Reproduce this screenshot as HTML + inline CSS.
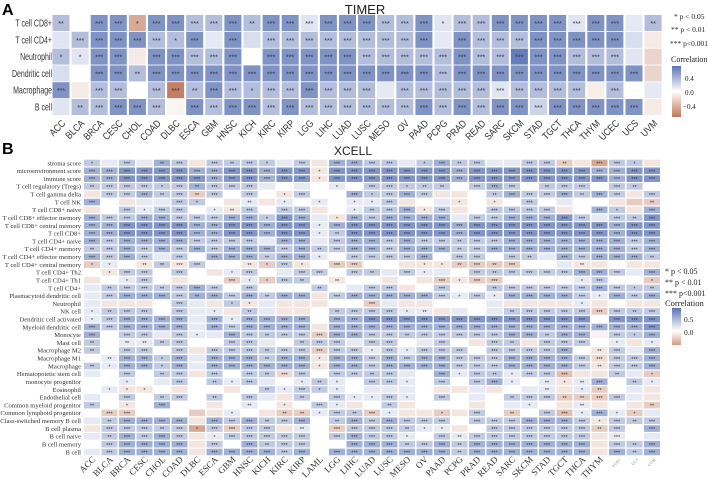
<!DOCTYPE html>
<html><head><meta charset="utf-8"><style>
html,body{margin:0;padding:0;background:#fff;}
svg{display:block;}
</style></head><body>
<svg id="chart" width="708" height="479" viewBox="0 0 708 479" xmlns="http://www.w3.org/2000/svg">
<text x="2" y="15" font-family="Liberation Sans, sans-serif" font-weight="bold" font-size="16">A</text>
<text x="365" y="14" text-anchor="middle" font-family="Liberation Sans, sans-serif" font-size="13" fill="#222">TIMER</text>
<text x="2" y="154" font-family="Liberation Sans, sans-serif" font-weight="bold" font-size="16">B</text>
<text x="353" y="155" text-anchor="middle" font-family="Liberation Sans, sans-serif" font-size="12" fill="#222">XCELL</text>
<defs>
<linearGradient id="gA" x1="0" y1="0" x2="0" y2="1"><stop offset="0" stop-color="#5a74b4"/><stop offset="0.5" stop-color="#ffffff"/><stop offset="1" stop-color="#bf7657"/></linearGradient>
<linearGradient id="gB" x1="0" y1="0" x2="0" y2="1"><stop offset="0" stop-color="#5a74b4"/><stop offset="0.62" stop-color="#ffffff"/><stop offset="1" stop-color="#d59a80"/></linearGradient>
</defs>
<g font-family="Liberation Serif, serif" fill="#222">
<text x="674" y="19" font-size="7.5">* p &lt; 0.05</text>
<text x="671" y="32" font-size="7.5">** p &lt; 0.01</text>
<text x="670" y="46" font-size="7.5">*** p&lt;0.001</text>
<text x="671" y="62" font-size="8">Correlation</text>
<rect x="672" y="66" width="9" height="51" fill="url(#gA)"/>
<text x="685" y="81" font-size="7">0.4</text>
<text x="685" y="95" font-size="7">0.0</text>
<text x="683" y="109" font-size="7">−0.4</text>
<text x="665" y="274" font-size="8">* p &lt; 0.05</text>
<text x="665" y="285" font-size="8">** p &lt; 0.01</text>
<text x="665" y="296" font-size="8">*** p&lt;0.001</text>
<text x="665" y="306" font-size="8.5">Correlation</text>
<rect x="672" y="308" width="9" height="37" fill="url(#gB)"/>
<text x="684" y="322" font-size="7.5">0.5</text>
<text x="684" y="335" font-size="7.5">0.0</text>
</g>
<g id="pa"></g>
<g id="pb"></g>
</svg>
<script>
const timerCancers = ["ACC","BLCA","BRCA","CESC","CHOL","COAD","DLBC","ESCA","GBM","HNSC","KICH","KIRC","KIRP","LGG","LIHC","LUAD","LUSC","MESO","OV","PAAD","PCPG","PRAD","READ","SARC","SKCM","STAD","TGCT","THCA","THYM","UCEC","UCS","UVM"];
const timerCells = ["T cell CD8+","T cell CD4+","Neutrophil","Dendritic cell","Macrophage","B cell"];
const timerValues = [
[.3,0,.5,.5,-.4,.5,.5,.3,.3,.5,.3,.5,.5,.12,.5,.5,.5,.3,.3,.5,.12,.3,.3,.5,.5,.5,.5,.12,.5,.5,.1,.3],
[.12,.3,.5,.5,.5,.3,.3,.5,.1,.5,.15,.3,.3,.3,.3,.3,.3,.3,.3,.5,.1,.5,.3,.3,.3,.5,.5,.5,.5,.5,.15,-.1],
[.3,.12,.5,.5,-.1,.5,.5,.3,.3,.5,0,.5,.5,.5,.5,.5,.3,.3,.3,.3,.3,.5,.3,.3,.6,.5,.5,.3,.3,.3,.12,-.2],
[.15,0,.5,.5,.3,.5,.5,.5,.5,.5,.5,.5,.5,.5,.5,.5,.5,.5,.5,.5,.3,.5,.5,.5,.5,.5,.5,.5,.5,.5,.5,-.2],
[.5,-.1,.3,.3,0,.3,-.6,.3,.5,.3,.3,.3,.3,.5,.3,.3,.3,.1,.3,.3,.3,.3,.3,.12,.3,.3,.3,.3,-.08,.3,0,.1],
[.12,.3,.3,.5,.5,.3,-.05,.5,.3,.5,.5,.3,.5,.3,.3,.3,.3,.3,.3,.5,.3,.5,.3,.5,.5,.2,.5,.5,.5,.5,.5,-.1]
];
const timerStars = [
[2,0,3,3,1,3,3,3,3,3,2,3,3,3,3,3,3,3,3,3,1,3,3,3,3,3,3,3,3,3,0,2],
[0,3,3,3,3,3,1,3,0,3,0,3,3,3,3,3,3,3,3,3,0,3,3,3,3,3,3,3,3,3,0,0],
[1,1,3,3,0,3,3,3,3,3,0,3,3,3,3,3,3,3,3,3,3,3,3,3,3,3,3,3,3,3,0,0],
[0,0,3,3,2,3,3,3,3,3,3,3,3,3,3,3,3,3,3,3,3,3,3,3,3,3,3,3,3,3,3,0],
[3,0,3,3,0,3,3,2,3,3,1,3,3,3,3,3,3,0,3,3,3,3,3,3,3,3,3,3,0,3,0,0],
[0,2,3,3,3,3,0,3,3,3,3,3,3,3,3,3,3,3,3,3,3,3,3,3,3,3,3,3,3,3,3,0]
];
const xcellCancers = ["ACC","BLCA","BRCA","CESC","CHOL","COAD","DLBC","ESCA","GBM","HNSC","KICH","KIRC","KIRP","LAML","LGG","LIHC","LUAD","LUSC","MESO","OV","PAAD","PCPG","PRAD","READ","SARC","SKCM","STAD","TGCT","THCA","THYM","UCEC","UCS","UVM"];
const xcellCells = ["stroma score","microenvironment score","immune score","T cell regulatory (Tregs)","T cell gamma delta","T cell NK","T cell CD8+ naive","T cell CD8+ effector memory","T cell CD8+ central memory","T cell CD8+","T cell CD4+ naive","T cell CD4+ memory","T cell CD4+ effector memory","T cell CD4+ central memory","T cell CD4+ Th2","T cell CD4+ Th1","T cell CD4+","Plasmacytoid dendritic cell","Neutrophil","NK cell","Dendritic cell activated","Myeloid dendritic cell","Monocyte","Mast cell","Macrophage M2","Macrophage M1","Macrophage","Hematopoietic stem cell","monocyte progenitor","Eosinophil","Endothelial cell","Common myeloid progenitor","Common lymphoid progenitor","Class-switched memory B cell","B cell plasma","B cell naive","B cell memory","B cell"];
const xcellValues = [
[.3,.12,.3,.12,.45,.3,-.1,.3,.3,.3,.3,.12,.3,-.1,.45,.45,.3,.3,.12,.3,.45,.3,.3,.12,.12,.3,.3,-.2,-.1,-.35,.3,.3,-.1],
[.45,.45,.6,.6,.6,.6,.45,.45,.6,.6,.45,.6,.6,-.1,.6,.6,.6,.6,.6,.6,.6,.45,.6,.6,.6,.6,.6,.6,.6,.45,.45,.6,.6],
[.45,.45,.6,.6,.6,.6,.6,.45,.6,.6,.45,.6,.6,-.1,.6,.6,.6,.6,.6,.6,.6,.45,.6,.6,.6,.6,.6,.6,.6,.6,.45,.6,.6],
[.3,.3,.3,.3,.3,.3,.45,.3,.3,.3,.12,0,.12,0,.12,0,.3,.3,.3,.3,.3,0,.3,.45,.3,0,.3,.3,.3,0,.3,.3,0],
[-.1,.3,.3,.45,.3,.3,-.2,.3,0,.3,0,-.1,.3,0,0,.45,.3,.3,.45,.3,-.1,-.1,0,.3,.45,.3,.3,.45,.3,.45,.3,-.1,.3],
[.45,0,-.1,.12,.12,.3,.3,0,-.1,.12,-.1,.12,0,.12,0,.12,.12,.3,-.1,0,.12,-.1,0,-.1,0,.3,0,.12,0,0,-.1,-.2,-.2],
[-.1,0,.3,.12,.3,.3,0,.12,-.1,.3,0,.3,.3,-.1,0,.12,.3,.3,.45,-.1,.3,-.1,0,.3,.3,.3,.3,-.1,0,.45,.3,-.1,.45],
[.45,.3,.3,.45,.45,.3,.3,.3,.45,.45,.3,.6,.45,.12,-.1,.45,.3,.45,.45,.45,.45,.12,.3,.3,.45,.45,.45,.6,.3,.12,.3,.3,.6],
[.45,.45,.6,.6,.6,.6,.45,.45,.6,.6,.45,.6,.6,.12,.45,.6,.6,.6,.6,.6,.6,.45,.6,.6,.6,.6,.6,.6,.6,.6,.45,.6,.6],
[.45,.45,.6,.6,.6,.6,.45,.45,.6,.6,.45,.6,.6,.12,.3,.6,.6,.6,.6,.6,.6,.45,.6,.6,.6,.6,.6,.6,.6,.6,.45,.6,.6],
[.45,.3,.45,.45,.45,.45,.3,.3,.3,.3,.12,.45,.45,.12,.3,.45,.45,.3,.45,.3,.3,.3,.3,.3,.45,.45,.45,.45,.45,.45,.45,.3,.45],
[.3,.3,.45,.3,.45,.3,.45,.3,.45,.45,.45,.3,.45,.3,.3,.45,.45,.3,.45,.45,.45,.3,.3,.45,.45,.45,.45,.45,.45,.45,.45,.3,.45],
[.45,.3,.45,.3,.12,.3,0,.45,.45,.45,.3,.45,.45,.12,0,.3,.3,.3,.3,.45,0,.3,.3,0,.3,.3,.12,.45,.3,.45,.45,.45,.3],
[-.2,.12,0,-.1,.3,-.1,.3,0,0,-.1,-.2,.3,-.1,0,-.2,-.2,0,0,-.1,-.1,-.1,-.2,-.2,-.2,-.2,0,0,.12,-.1,-.1,0,-.1,-.1],
[0,-.1,.3,.3,0,.3,0,-.1,.12,.3,0,.12,.3,.3,0,.3,.3,.12,.3,.12,.12,0,.3,.3,.3,.3,.3,.3,.45,.45,.3,.12,.45],
[-.1,0,.12,.3,0,-.1,0,0,-.2,.12,-.2,.3,.3,0,-.1,0,0,-.1,0,-.1,-.2,-.1,-.2,-.2,0,0,0,0,.12,.3,0,0,-.2],
[.12,.3,.3,.3,.3,.3,.45,.3,0,.3,0,0,0,.3,0,.12,.3,.3,-.1,0,.3,0,0,.3,.3,.3,.3,.3,.3,.45,.3,.3,.3],
[.12,.3,.45,.45,.45,.3,.45,.45,.3,.45,.3,.45,.45,-.1,.3,.45,.45,.45,.45,.45,.3,.12,.3,.12,.45,.45,.45,.45,.3,.12,.45,.3,.45],
[.12,-.1,-.1,-.1,0,.3,.12,-.1,.3,-.1,.12,-.1,-.1,-.1,0,0,-.2,.12,-.1,-.1,0,0,0,.12,-.1,-.1,-.1,-.1,.12,-.1,0,-.1,-.1],
[.12,.3,.3,.3,0,.3,.12,.12,-.1,.3,.12,-.1,-.1,0,.3,.3,.3,.3,.12,.12,-.1,.12,0,.12,.3,.3,.3,.3,.3,-.2,.3,.3,.3],
[.12,.3,.45,.45,.45,.45,.12,.45,.12,.45,.45,.45,.45,0,.45,.45,.6,.6,.6,.6,.6,.6,.6,.6,.6,.6,.6,.6,.6,0,.6,.6,.6],
[.45,.3,.45,.45,.45,.45,.12,.45,.3,.45,.45,.45,.45,-.1,.45,.45,.45,.45,.45,.45,.45,.45,.45,.45,.45,.45,.45,.45,.45,.45,.45,.45,.6],
[.45,0,.3,.3,.12,.3,.12,.12,.45,.3,.3,.3,.3,-.2,.45,.45,.3,.3,.3,.3,.3,.3,.3,.3,.45,.45,.3,.45,.45,-.05,.3,.3,.45],
[.3,0,.12,.12,.3,.3,0,0,.3,.3,.12,0,.3,.3,.3,.12,.3,.3,0,.12,.3,0,-.1,.3,.3,-.1,.3,.3,.3,0,.12,-.1,.12],
[.3,0,.3,.3,0,.3,-.1,.3,.3,.3,.3,.3,.3,-.2,.3,.3,.12,.3,.12,.3,.3,.3,0,.3,.3,.3,.3,.45,0,-.1,.3,.12,.45],
[0,.12,.45,.45,.3,.45,.12,.45,.45,.45,.3,.45,.45,-.1,.45,.45,.3,.45,.3,.45,.45,.3,.3,.3,.45,.45,.45,.45,.3,-.15,.3,.3,.45],
[.3,.12,.45,.45,.3,.45,.12,.45,.45,.45,.45,.45,.45,-.1,.45,.45,.3,.45,.45,.45,.45,.3,.3,.3,.45,.45,.45,.45,.3,-.1,.3,.3,.45],
[.12,0,.3,0,.3,.3,-.1,.3,0,.3,.3,-.15,.3,0,.3,.3,.3,.3,.12,0,.45,.12,.3,.3,.12,.3,.3,-.25,-.1,-.1,.3,.12,-.2],
[0,0,.12,0,.12,.3,0,.3,.12,.3,.12,0,.12,.3,.12,0,.3,.3,.12,0,.3,0,.3,.45,.12,0,.12,-.1,.12,.45,0,.3,.12],
[0,.12,-.1,-.1,0,-.1,0,0,-.1,0,.3,.12,.3,.3,.12,0,.12,.12,.12,0,-.1,-.1,.12,-.1,0,.12,.12,-.1,.12,-.2,0,.12,-.1],
[.12,0,.3,0,.3,.3,0,.3,0,.3,.12,-.1,.3,0,.3,.12,.12,.3,.12,0,.3,0,.12,0,.3,.3,.3,-.2,-.2,-.2,.3,.12,-.1],
[.3,0,-.1,0,.45,0,0,-.1,0,.12,0,-.1,0,.3,.12,-.1,0,.3,-.1,0,0,0,-.1,0,.12,.12,0,-.1,.12,-.1,0,-.1,-.2],
[0,-.2,-.2,0,0,0,-.2,-.1,.12,0,-.1,-.2,-.2,.12,.3,.3,-.2,.12,-.1,-.1,-.2,-.1,.3,0,-.2,0,.3,-.25,.12,.45,.12,-.2,.12],
[.12,.3,.45,.45,.45,.45,-.1,.45,.3,.45,.3,.3,.45,0,.3,.45,.3,.45,.3,.3,.3,0,.3,.3,.3,.45,.45,.45,.3,-.1,.3,.3,.3],
[-.1,.3,.3,.3,.3,.3,-.35,.3,-.2,.3,.3,-.1,.12,0,-.2,.3,.3,.3,.3,.12,.12,-.1,0,.3,.3,.3,.3,.3,.3,-.2,.3,0,.45],
[.12,.3,.45,.3,.45,.3,-.1,.12,.3,.3,.3,.3,.3,0,.3,.45,.3,.3,.12,0,.3,.12,.3,.3,.3,.3,.3,.3,.3,-.1,.12,0,.12],
[0,.3,.45,.45,.45,.45,-.1,.3,0,.45,.3,.3,.3,0,0,.45,.45,.45,.3,.3,.45,.3,.45,.45,.45,.45,.45,.45,.45,-.1,.3,.3,.45],
[.12,.3,.45,.45,.45,.45,-.1,.45,.45,.45,.45,.3,.45,0,.45,.45,.45,.45,.45,.45,.45,.3,.45,.45,.45,.45,.45,.45,.45,-.1,.45,.3,.45]
];
const xcellStars = [
[1,0,3,0,2,3,0,3,2,3,1,0,3,0,3,3,3,3,0,1,3,2,3,0,0,3,3,2,0,3,3,1,0],
[3,3,3,3,3,3,3,3,3,3,3,3,3,1,3,3,3,3,3,3,3,3,3,3,3,3,3,3,3,3,3,3,3],
[3,3,3,3,3,3,3,3,3,3,3,3,3,1,3,3,3,3,3,3,3,3,3,3,3,3,3,3,3,3,3,3,3],
[2,3,3,3,1,3,2,3,3,3,0,0,0,0,1,0,3,3,1,2,2,0,3,3,3,0,2,3,3,0,3,2,0],
[0,3,3,3,2,3,2,3,0,3,0,1,3,0,0,3,1,3,3,3,0,0,0,2,3,3,3,3,2,3,3,0,3],
[3,0,0,0,0,3,1,0,0,2,0,1,0,1,0,1,1,3,0,0,0,1,0,1,0,3,0,0,0,0,0,0,2],
[0,0,3,1,3,3,0,1,2,3,0,3,3,0,0,1,2,3,3,1,3,0,0,3,3,3,3,0,0,3,1,0,3],
[3,3,3,3,3,3,3,3,3,3,1,3,3,0,1,3,3,3,3,3,3,0,3,3,3,3,3,3,3,0,3,2,3],
[3,3,3,3,3,3,3,3,3,3,3,3,3,1,3,3,3,3,3,3,3,3,3,3,3,3,3,3,3,3,3,3,3],
[3,3,3,3,3,3,3,3,3,3,3,3,3,1,2,3,3,3,3,3,3,3,3,3,3,3,3,3,3,3,3,3,3],
[3,3,3,3,3,3,3,3,3,3,0,3,3,0,3,3,3,3,3,3,3,2,3,3,3,3,3,3,3,3,3,3,3],
[2,3,3,3,3,3,3,3,3,3,3,3,3,2,3,3,3,3,3,3,3,2,3,3,3,3,3,3,3,3,3,3,3],
[3,3,3,3,0,3,0,3,3,3,2,3,3,1,0,3,3,3,3,3,0,3,3,0,3,2,0,3,3,3,3,3,2],
[1,1,0,2,2,3,3,0,0,2,1,3,1,0,3,3,0,0,0,1,1,2,3,2,3,0,0,0,2,0,0,0,0],
[0,1,3,3,0,3,0,0,1,3,0,0,3,3,0,3,2,0,3,1,0,0,3,2,3,3,3,3,3,3,3,0,3],
[0,0,1,3,0,0,0,0,3,1,1,3,2,0,2,0,0,0,0,0,3,1,3,3,0,0,0,0,1,3,0,0,1],
[0,2,3,3,2,3,3,3,0,3,0,0,0,2,0,0,3,3,0,0,3,0,0,2,3,3,3,3,3,3,3,1,2],
[0,3,3,3,3,3,2,3,3,3,2,3,3,0,3,3,3,3,3,3,3,1,3,1,3,3,3,3,3,1,3,3,3],
[0,0,0,0,0,3,0,0,1,1,0,0,0,0,0,0,3,0,0,0,0,0,0,0,0,0,0,0,1,0,0,0,0],
[1,2,3,3,0,3,0,1,0,2,0,0,0,0,2,3,3,3,1,2,0,0,0,0,2,3,3,3,3,3,3,2,3],
[1,3,3,3,3,3,0,3,1,3,3,3,3,0,3,3,3,3,3,3,3,3,3,3,3,3,3,3,3,0,3,3,3],
[3,3,3,3,3,3,0,3,3,3,3,3,3,0,3,3,3,3,3,3,3,3,3,3,3,3,3,3,3,3,3,3,3],
[3,0,3,3,0,3,1,0,3,3,2,3,3,3,3,3,3,3,2,3,3,3,3,3,3,3,2,3,3,0,3,1,3],
[2,0,2,2,2,3,0,0,3,3,0,0,2,3,3,0,3,3,0,0,3,0,0,3,2,0,3,3,3,0,1,0,1],
[2,0,3,3,0,3,0,3,3,3,2,3,3,3,3,3,1,3,1,3,3,3,0,3,3,3,3,3,0,2,3,0,3],
[0,2,3,3,1,3,0,3,3,3,2,3,3,1,3,3,3,3,3,3,3,3,3,3,3,3,3,3,3,3,3,3,3],
[2,1,3,3,1,3,0,3,3,3,3,3,3,1,3,3,3,3,3,3,3,3,3,3,3,3,3,3,3,2,3,3,3],
[0,0,3,0,2,3,0,3,0,3,2,3,3,0,3,3,2,3,0,0,3,1,3,2,1,3,3,3,0,0,2,0,1],
[0,0,1,0,0,3,0,2,1,3,0,0,1,2,1,0,3,3,1,0,3,0,3,3,1,0,2,1,2,3,0,2,1],
[0,1,1,1,0,0,0,0,0,0,2,1,3,1,1,0,0,0,0,0,0,0,0,0,0,0,2,0,1,2,0,0,0],
[0,0,3,0,2,3,0,2,0,3,0,0,2,0,3,1,1,3,1,0,3,0,0,0,2,3,3,2,2,3,3,0,0],
[2,0,1,0,3,0,0,0,0,2,0,1,0,3,1,0,0,2,0,0,0,0,0,0,0,1,0,0,2,0,0,0,2],
[0,3,3,0,0,0,0,0,1,0,0,2,2,1,3,2,3,1,0,0,1,0,3,0,2,0,3,3,1,3,1,1,0],
[0,2,3,3,3,3,0,3,3,3,2,3,3,0,2,3,3,3,3,3,3,0,3,3,3,3,3,3,3,1,3,2,3],
[0,3,3,3,2,3,1,3,3,3,3,0,2,0,3,3,3,3,2,1,1,0,0,3,3,3,3,3,3,2,3,0,3],
[0,2,3,3,3,3,0,1,3,3,3,3,3,0,3,3,3,3,1,0,3,2,3,3,3,3,3,3,3,0,3,0,0],
[0,3,3,3,3,3,0,3,0,3,2,3,3,0,0,3,3,3,2,3,3,2,3,3,3,3,3,3,3,0,3,2,3],
[0,3,3,3,3,3,0,3,3,3,3,3,3,0,3,3,3,3,3,3,3,2,3,3,3,3,3,3,3,0,3,2,3]
];

const NS = "http://www.w3.org/2000/svg";
function mk(tag, attrs, parent){ const e=document.createElementNS(NS,tag); for(const k in attrs) e.setAttribute(k,attrs[k]); parent.appendChild(e); return e; }
function mix(a,b,t){ return Math.round(a+(b-a)*t); }
function colorFor(v, maxPos, maxNeg){
  if(v>=0){ const t=Math.min(1,v/maxPos); return `rgb(${mix(255,88,t)},${mix(255,114,t)},${mix(255,180,t)})`; }
  const t=Math.min(1,-v/maxNeg); return `rgb(${mix(255,190,t)},${mix(255,116,t)},${mix(255,86,t)})`;
}
const starStr = ["","*","**","***"];

// Panel A scales
const ax = i => 61 + i*19.1;
const ay = r => 23 + r*16.8;
const pa = document.getElementById('pa');
timerCells.forEach((name,r)=>{
  const t = mk('text',{x:0,y:0,'text-anchor':'end','font-family':'Liberation Sans, sans-serif','font-size':'10',fill:'#333',transform:`translate(52 ${ay(r)+3.5}) scale(0.7 1)`},pa);
  t.textContent = name;
  
  
  timerCancers.forEach((c,i)=>{
    const v = timerValues[r][i];
    const rect = mk('rect',{x:ax(i)-8.5,y:ay(r)-8,width:17,height:16,fill:colorFor(v,0.65,0.65)},pa);
    
    
    const s = timerStars[r][i];
    if(s){ const st = mk('text',{x:ax(i),y:ay(r)+3,'text-anchor':'middle','font-family':'Liberation Sans, sans-serif','font-size':'7',fill:'#333'},pa);
      st.textContent = starStr[s];
      
       }
  });
});
timerCancers.forEach((c,i)=>{
  const t = mk('text',{x:0,y:0,'text-anchor':'end','font-family':'Liberation Sans, sans-serif','font-size':'10',fill:'#333',transform:`translate(${ax(i)+5} 124) rotate(-45) scale(0.85 1)`},pa);
  t.textContent = c;
  
  
});

// Panel B scales
const bx = i => 92 + i*17.5;
const by = r => 163 + r*7.81;
const pb = document.getElementById('pb');
xcellCells.forEach((name,r)=>{
  const t = mk('text',{x:81,y:by(r)+2.3,'text-anchor':'end','font-family':'Liberation Serif, serif','font-size':'6.6',fill:'#333'},pb);
  t.textContent = name;
  
  
  xcellCancers.forEach((c,i)=>{
    const v = xcellValues[r][i];
    const rect = mk('rect',{x:bx(i)-8,y:by(r)-3.3,width:16,height:6.6,fill:colorFor(v,0.8,0.55)},pb);
    
    
    const s = xcellStars[r][i];
    if(s){ const st = mk('text',{x:bx(i),y:by(r)+2.6,'text-anchor':'middle','font-family':'Liberation Sans, sans-serif','font-size':'5.5',fill:'#333'},pb);
      st.textContent = starStr[s];
      
       }
  });
});
xcellCancers.forEach((c,i)=>{
  const small = i>=30;
  const t = mk('text',{x:bx(i)+4,y:460,'text-anchor':'end','font-family':'Liberation Serif, serif','font-size':small?'4':'9',fill:small?'#888':'#333',transform:`rotate(-45 ${bx(i)+4} 460)`},pb);
  t.textContent = c;
  
  
});
</script>
</body></html>
